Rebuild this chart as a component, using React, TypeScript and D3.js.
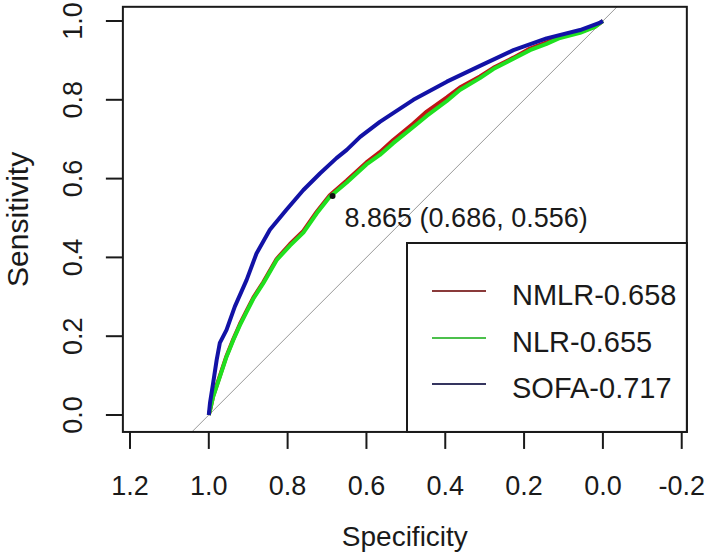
import React from "react";
import * as d3 from "d3";

// ROC curves: specificity (x, reversed) vs sensitivity (y)
const sofaSpec = [1.0, 0.997, 0.989, 0.98, 0.972, 0.955, 0.934, 0.904, 0.879, 0.845, 0.803, 0.76, 0.718, 0.676, 0.65, 0.616, 0.566, 0.481, 0.396, 0.312, 0.227, 0.143, 0.058, 0.007, 0.0];
const sofaSens = [0.0, 0.03, 0.081, 0.14, 0.183, 0.216, 0.275, 0.343, 0.41, 0.47, 0.521, 0.571, 0.613, 0.652, 0.673, 0.706, 0.744, 0.8, 0.846, 0.886, 0.926, 0.956, 0.977, 0.996, 1.0];

const nlrSpec = [1.0, 0.995, 0.989, 0.972, 0.955, 0.938, 0.921, 0.904, 0.887, 0.862, 0.828, 0.794, 0.76, 0.726, 0.693, 0.65, 0.6, 0.566, 0.532, 0.481, 0.447, 0.396, 0.363, 0.312, 0.278, 0.227, 0.185, 0.143, 0.109, 0.058, 0.02, 0.0];
const nlrSens = [0.0, 0.02, 0.046, 0.097, 0.148, 0.19, 0.228, 0.262, 0.295, 0.334, 0.393, 0.43, 0.463, 0.512, 0.554, 0.59, 0.636, 0.66, 0.69, 0.731, 0.759, 0.797, 0.825, 0.855, 0.878, 0.904, 0.926, 0.942, 0.957, 0.97, 0.985, 1.0];

const nmlrSpec = nlrSpec;
const nmlrSens = [0.0, 0.02, 0.048, 0.099, 0.15, 0.192, 0.231, 0.265, 0.298, 0.337, 0.396, 0.434, 0.467, 0.516, 0.558, 0.595, 0.641, 0.667, 0.698, 0.74, 0.77, 0.806, 0.831, 0.859, 0.881, 0.907, 0.93, 0.946, 0.959, 0.972, 0.986, 1.0];

const xTicks = [1.2, 1.0, 0.8, 0.6, 0.4, 0.2, 0.0, -0.2];
const yTicks = [0.0, 0.2, 0.4, 0.6, 0.8, 1.0];

const legendNames = ["NMLR-0.658", "NLR-0.655", "SOFA-0.717"];
const thresholdSpec = 0.686;
const thresholdSens = 0.556;
const thresholdLabel = "8.865 (0.686, 0.556)";

const W = 709;
const H = 558;
const FONT = "'Liberation Sans', Arial, Helvetica, sans-serif";
const INK = "#1a1a1a";

export default function App() {
  const x = d3.scaleLinear().domain([1, 0]).range([208.8, 602.9]);
  const y = d3.scaleLinear().domain([0, 1]).range([415, 21]);

  // plot box limits (data units)
  const box = { x0: 1.218, x1: -0.213, y0: -0.043, y1: 1.036 };
  const left = x(box.x0);
  const right = x(box.x1);
  const top = y(box.y1);
  const bottom = y(box.y0);

  const line = d3
    .line<[number, number]>()
    .x((d) => x(d[0]))
    .y((d) => y(d[1]));

  const zip = (a: number[], b: number[]) => a.map((v, i) => [v, b[i]] as [number, number]);

  const series = [
    { spec: nmlrSpec, sens: nmlrSens, color: "#c01515", legend: "#8a3a3a", width: 4 },
    { spec: nlrSpec, sens: nlrSens, color: "#1fe01f", legend: "#4cc04c", width: 4 },
    { spec: sofaSpec, sens: sofaSens, color: "#1212a6", legend: "#35355f", width: 4 },
  ];

  // diagonal sens = 1 - spec, clipped to the box
  const diag: [number, number][] = [
    [1 - box.y0, box.y0],
    [1 - box.y1, box.y1],
  ];

  const legendBox = { left: 407, top: 243 };
  const legendRows = [291, 338, 384];

  return (
    <svg
      width={W}
      height={H}
      style={{ position: "absolute", left: 0, top: 0, background: "#fff" }}
      fontFamily={FONT}
    >
      <rect width={W} height={H} fill="#fff" />
      <defs>
        <clipPath id="plotClip">
          <rect x={left} y={top} width={right - left} height={bottom - top} />
        </clipPath>
      </defs>

      {/* diagonal */}
      <path d={line(diag) || ""} stroke="#999" strokeWidth={1} fill="none" clipPath="url(#plotClip)" />

      {/* curves */}
      {series.map((s, i) => (
        <path
          key={i}
          d={line(zip(s.spec, s.sens)) || ""}
          fill="none"
          stroke={s.color}
          strokeWidth={s.width}
          strokeLinejoin="round"
        />
      ))}

      {/* threshold */}
      <circle cx={x(thresholdSpec)} cy={y(thresholdSens)} r={3} fill="#111" />
      <text x={x(thresholdSpec) + 12} y={y(thresholdSens) + 31} fontSize={27} fill={INK}>
        {thresholdLabel}
      </text>

      {/* box */}
      <rect x={left} y={top} width={right - left} height={bottom - top} fill="none" stroke={INK} strokeWidth={2} />

      {/* x axis */}
      {xTicks.map((t) => (
        <g key={t}>
          <line x1={x(t)} x2={x(t)} y1={bottom} y2={bottom + 17} stroke={INK} strokeWidth={2} />
          <text x={x(t)} y={495} fontSize={27} textAnchor="middle" fill={INK}>
            {t.toFixed(1)}
          </text>
        </g>
      ))}
      <text x={(left + right) / 2} y={546} fontSize={28} textAnchor="middle" fill={INK}>
        Specificity
      </text>

      {/* y axis */}
      {yTicks.map((t) => (
        <g key={t}>
          <line x1={left - 17} x2={left} y1={y(t)} y2={y(t)} stroke={INK} strokeWidth={2} />
          <text
            transform={`translate(82,${y(t)}) rotate(-90)`}
            fontSize={27}
            textAnchor="middle"
            fill={INK}
          >
            {t.toFixed(1)}
          </text>
        </g>
      ))}
      <text
        transform={`translate(28,${(top + bottom) / 2}) rotate(-90)`}
        fontSize={30}
        textAnchor="middle"
        fill={INK}
      >
        Sensitivity
      </text>

      {/* legend */}
      <rect
        x={legendBox.left}
        y={legendBox.top}
        width={right - legendBox.left}
        height={bottom - legendBox.top}
        fill="#fff"
        stroke={INK}
        strokeWidth={2}
      />
      {legendNames.map((name, i) => (
        <g key={name}>
          <line x1={432} x2={486} y1={legendRows[i]} y2={legendRows[i]} stroke={series[i].legend} strokeWidth={2} />
          <text x={512} y={legendRows[i] + 14} fontSize={29} fill={INK}>
            {name}
          </text>
        </g>
      ))}
    </svg>
  );
}
